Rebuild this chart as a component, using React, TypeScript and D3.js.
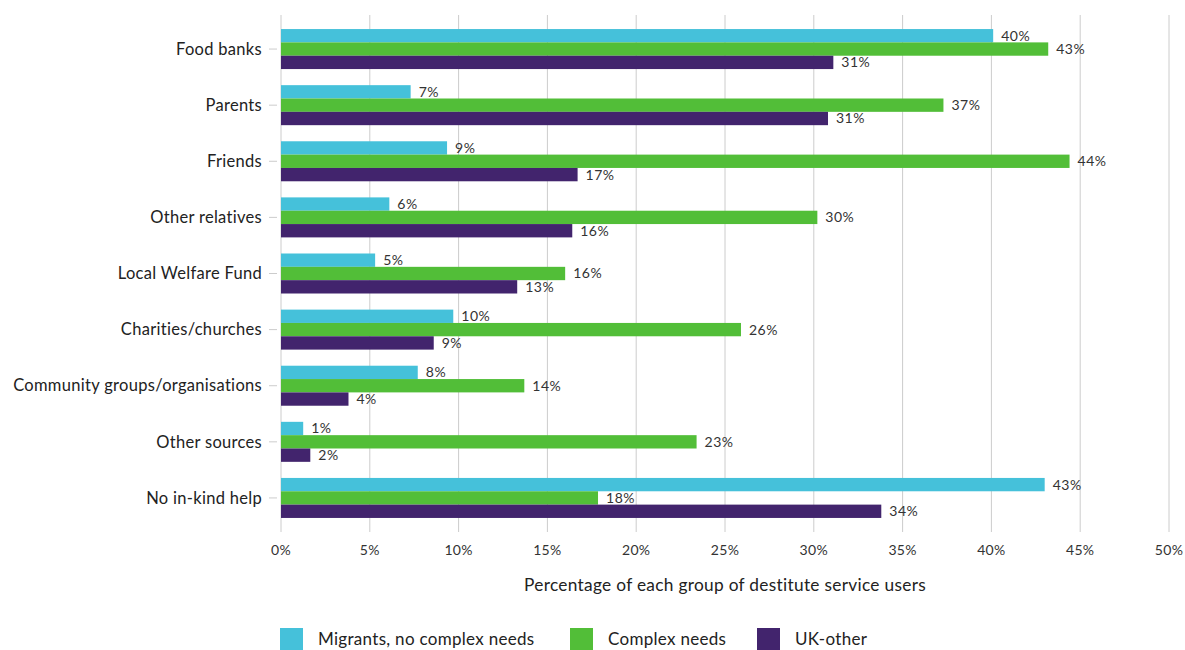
import React from "react";
import * as d3 from "d3";

const categories = [
  "Food banks",
  "Parents",
  "Friends",
  "Other relatives",
  "Local Welfare Fund",
  "Charities/churches",
  "Community groups/organisations",
  "Other sources",
  "No in-kind help",
];
const seriesNames = ["Migrants, no complex needs", "Complex needs", "UK-other"];
const migrants = [40.1, 7.3, 9.35, 6.1, 5.3, 9.7, 7.7, 1.25, 43.0];
const complexNeeds = [43.2, 37.3, 44.4, 30.2, 16.0, 25.9, 13.7, 23.4, 17.85];
const ukOther = [31.1, 30.8, 16.7, 16.4, 13.3, 8.6, 3.8, 1.65, 33.8];
const xTicks = [0, 5, 10, 15, 20, 25, 30, 35, 40, 45, 50];
const colors = ["#45C1DA", "#52BE38", "#42246D"];

const FONT = "Lato, 'Noto Sans', sans-serif";

export default function App() {
  const W = 1185;
  const H = 650;
  const x = d3.scaleLinear().domain([0, 50]).range([281, 1169]);
  const y = d3
    .scaleBand<string>()
    .domain(categories)
    .range([21, 526])
    .paddingInner(0.287)
    .paddingOuter(0.1435);
  const inner = d3
    .scaleBand<number>()
    .domain([0, 1, 2])
    .range([0, y.bandwidth()]);
  const data = [migrants, complexNeeds, ukOther];

  const legendX = [280, 570, 757];

  return (
    <svg
      width={W}
      height={H}
      style={{ position: "absolute", left: 0, top: 0 }}
      fontFamily={FONT}
    >
      {xTicks.map((t) => (
        <g key={t}>
          <line
            x1={x(t)}
            x2={x(t)}
            y1={15}
            y2={532}
            stroke="#cccccc"
            strokeWidth={1}
          />
          <text
            x={x(t)}
            y={555}
            textAnchor="middle"
            fontSize={14}
            letterSpacing={0.3}
            fill="#333"
          >
            {t}%
          </text>
        </g>
      ))}
      {categories.map((c) => {
        const cy = (y(c) as number) + y.bandwidth() / 2;
        return (
          <g key={c}>
            <line x1={269} x2={277} y1={cy} y2={cy} stroke="#cccccc" />
            <text
              x={262}
              y={cy}
              dy="0.35em"
              textAnchor="end"
              fontSize={16.5}
              letterSpacing={0.3}
              fill="#222"
            >
              {c}
            </text>
          </g>
        );
      })}
      {data.map((vals, si) =>
        vals.map((v, ci) => {
          const by = (y(categories[ci]) as number) + (inner(si) as number);
          const bh = inner.bandwidth();
          return (
            <g key={`${si}-${ci}`}>
              <rect
                x={x(0)}
                y={by}
                width={x(v) - x(0)}
                height={bh}
                fill={colors[si]}
              />
              <text
                x={x(v) + 8}
                y={by + bh / 2}
                dy="0.35em"
                fontSize={14}
                letterSpacing={0.5}
                fill="#333"
              >
                {Math.round(v)}%
              </text>
            </g>
          );
        })
      )}
      <text
        x={725}
        y={591}
        textAnchor="middle"
        fontSize={17.3}
        letterSpacing={0.3}
        fill="#222"
      >
        Percentage of each group of destitute service users
      </text>
      {seriesNames.map((s, i) => (
        <g key={s}>
          <rect
            x={legendX[i]}
            y={628}
            width={23}
            height={22}
            fill={colors[i]}
          />
          <text
            x={legendX[i] + 38}
            y={639}
            dy="0.35em"
            fontSize={17}
            letterSpacing={0.3}
            fill="#222"
          >
            {s}
          </text>
        </g>
      ))}
    </svg>
  );
}
